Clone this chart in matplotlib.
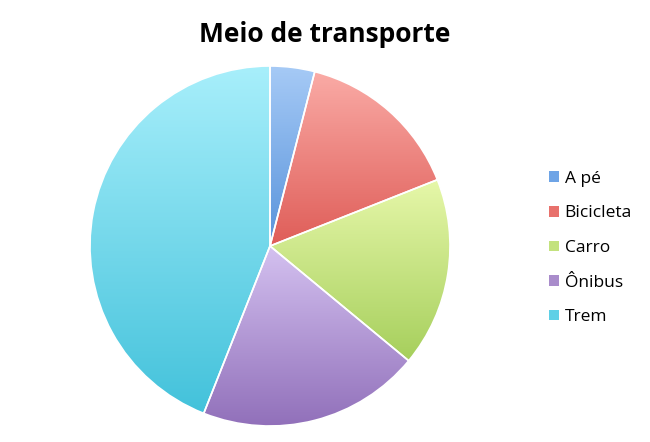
import numpy as np
import matplotlib
matplotlib.use("Agg")
import matplotlib.pyplot as plt
from matplotlib.colors import LinearSegmentedColormap
from matplotlib.patches import Patch

categories = ["A pé", "Bicicleta", "Carro", "Ônibus", "Trem"]
values = [4, 15, 17, 20, 44]
top_colors = ["#a6caf6", "#faaba6", "#e6f7a9", "#d4c1f0", "#a8effb"]
bottom_colors = ["#5893db", "#df5d58", "#a6cf5c", "#9170ba", "#43c2db"]
legend_colors = ["#6ea4e6", "#e8716c", "#c3e27e", "#a98ccb", "#5fd0e6"]

plt.rcParams['font.family'] = ['Open Sans', 'DejaVu Sans']

fig = plt.figure(figsize=(6.5, 4.42), dpi=100)
ax = fig.add_axes([0, 0, 1, 1])

cx, cy, R = 270, 442 - 246, 180
wedges, _ = ax.pie(values, startangle=90, counterclock=False, center=(cx, cy),
                   radius=R, frame=True,
                   wedgeprops=dict(edgecolor='white', linewidth=1.2, facecolor='none', zorder=3))

for w, tc, bc in zip(wedges, top_colors, bottom_colors):
    t1, t2 = w.theta1, w.theta2
    angs = np.radians(np.linspace(t1, t2, 200))
    ys = np.concatenate([cy + R * np.sin(angs), [cy]])
    ymin, ymax = ys.min(), ys.max()
    cmap = LinearSegmentedColormap.from_list("g", [bc, tc])
    grad = np.linspace(0, 1, 256).reshape(-1, 1)
    im = ax.imshow(grad, cmap=cmap, origin='lower', aspect='auto',
                   extent=[cx - R, cx + R, ymin, ymax], zorder=2,
                   interpolation='bilinear')
    im.set_clip_path(w)

ax.set_xlim(0, 650)
ax.set_ylim(0, 442)
ax.set_aspect('equal')
ax.axis('off')

fig.text(325 / 650, 1 - 35 / 442, "Meio de transporte", ha='center', va='center',
         fontsize=19, fontweight='bold')

handles = [Patch(facecolor=c, edgecolor='none') for c in legend_colors]
ax.legend(handles, categories, loc='center left', bbox_to_anchor=(549 / 650, 1 - 248 / 442),
          bbox_transform=fig.transFigure, frameon=False, fontsize=12.5, borderpad=0,
          borderaxespad=0, handlelength=0.55, handleheight=0.55, handletextpad=0.35,
          labelspacing=1.07)

fig.savefig("out.png", dpi=100)
